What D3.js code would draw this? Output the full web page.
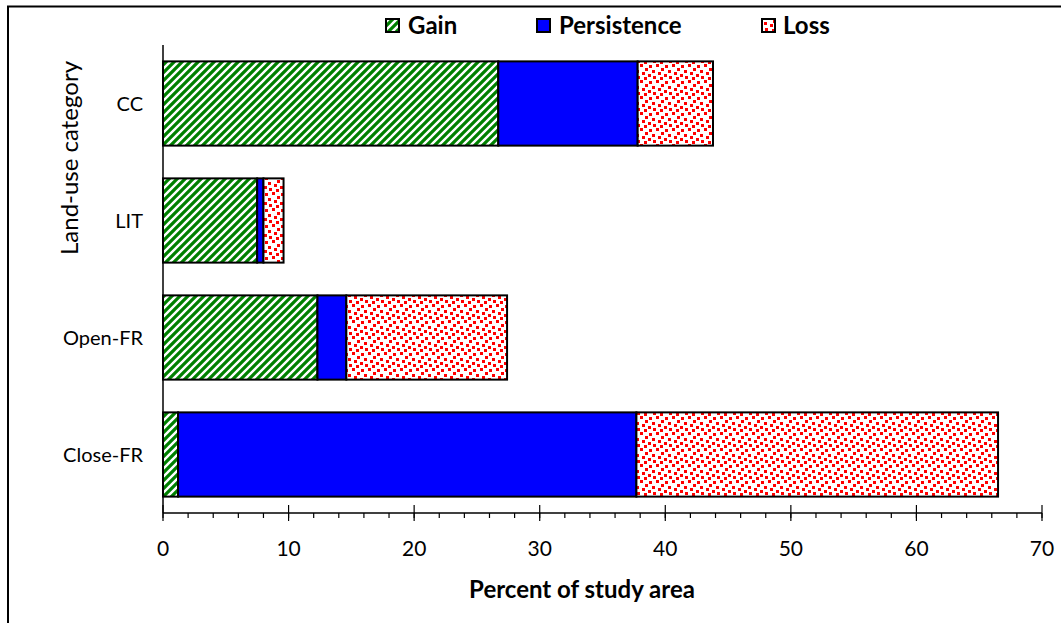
<!DOCTYPE html>
<html><head><meta charset="utf-8">
<script src="https://cdn.jsdelivr.net/npm/d3@7"></script>
<style>html,body{margin:0;padding:0;background:#fff;}svg{display:block;}</style>
</head><body>
<svg id="chart" width="1061" height="623"></svg>
<script>
const categories = ["CC", "LIT", "Open-FR", "Close-FR"];
const seriesNames = ["Gain", "Persistence", "Loss"];
const gain = [26.7, 7.5, 12.3, 1.2];
const persistence = [11.1, 0.5, 2.3, 36.5];
const loss = [6.0, 1.6, 12.8, 28.8];
const xTicks = [0, 10, 20, 30, 40, 50, 60, 70];
const xTitle = "Percent of study area";
const yTitle = "Land-use category";

const svg = d3.select("#chart");
const font = "Lato, 'Open Sans', sans-serif";

// outer frame
svg.append("rect").attr("x", 8).attr("y", 6.5).attr("width", 1100).attr("height", 700)
  .attr("fill", "none").attr("stroke", "#000").attr("stroke-width", 2);

const defs = svg.append("defs");
const pg = defs.append("pattern").attr("id", "pGain").attr("patternUnits", "userSpaceOnUse")
  .attr("width", 8).attr("height", 8);
pg.append("rect").attr("width", 8).attr("height", 8).attr("fill", "#008000");
pg.append("path").attr("d", "M-2,2 L2,-2 M0,8 L8,0 M6,10 L10,6")
  .attr("stroke", "#fff").attr("stroke-width", 2.4);
const pl = defs.append("pattern").attr("id", "pLoss").attr("patternUnits", "userSpaceOnUse")
  .attr("width", 16).attr("height", 16);
pl.append("rect").attr("width", 16).attr("height", 16).attr("fill", "#fff");
[[0,0],[9,1],[5,4],[12,6],[2,8],[8,10],[4,13],[13,12]].forEach(([a,b]) =>
  pl.append("rect").attr("x", a).attr("y", b).attr("width", 3).attr("height", 3).attr("fill", "#ff0000"));

const fills = {Gain: "url(#pGain)", Persistence: "#0000ff", Loss: "url(#pLoss)"};

const x = d3.scaleLinear().domain([0, 70]).range([163, 1042]);
const y = d3.scaleBand().domain(categories).range([45, 513]).paddingInner(0.28).paddingOuter(0.14);

const rows = categories.map((c, i) => ({cat: c, Gain: gain[i], Persistence: persistence[i], Loss: loss[i]}));
const stack = d3.stack().keys(seriesNames)(rows);

stack.forEach(s => {
  svg.append("g").selectAll("rect").data(s).join("rect")
    .attr("x", d => x(d[0])).attr("y", d => y(d.data.cat))
    .attr("width", d => x(d[1]) - x(d[0])).attr("height", y.bandwidth())
    .attr("fill", fills[s.key]).attr("stroke", "#000").attr("stroke-width", 2);
});

// axes
const axY = 513;
svg.append("line").attr("x1", x(0)).attr("x2", x(70)).attr("y1", axY).attr("y2", axY)
  .attr("stroke", "#000").attr("stroke-width", 1.5);
svg.append("line").attr("x1", x(0)).attr("x2", x(0)).attr("y1", 45).attr("y2", axY)
  .attr("stroke", "#000").attr("stroke-width", 1.5);
const minor = d3.range(0, 70.001, 2);
svg.append("g").selectAll("line").data(minor).join("line")
  .attr("x1", d => x(d)).attr("x2", d => x(d)).attr("y1", axY).attr("y2", axY + 5)
  .attr("stroke", "#000").attr("stroke-width", 1.2);
svg.append("g").selectAll("line").data(xTicks).join("line")
  .attr("x1", d => x(d)).attr("x2", d => x(d)).attr("y1", axY - 8).attr("y2", axY + 8)
  .attr("stroke", "#000").attr("stroke-width", 1.2);
svg.append("g").selectAll("text").data(xTicks).join("text")
  .attr("x", d => x(d)).attr("y", 556).attr("text-anchor", "middle")
  .attr("font-family", font).attr("font-size", 21).attr("fill", "#000").text(d => d);
svg.append("text").attr("x", 582).attr("y", 598).attr("text-anchor", "middle")
  .attr("font-family", font).attr("font-weight", "bold").attr("font-size", 24).text(xTitle);

svg.append("g").selectAll("text").data(categories).join("text")
  .attr("x", 143).attr("y", d => y(d) + y.bandwidth() / 2 + 7).attr("text-anchor", "end")
  .attr("font-family", font).attr("font-size", 20).text(d => d);
svg.append("text").attr("transform", "translate(78,158) rotate(-90)").attr("text-anchor", "middle")
  .attr("font-family", font).attr("font-size", 24).text(yTitle);

// legend
const legX = [386, 537, 762];
const legTX = [408, 559, 783];
seriesNames.forEach((s, i) => {
  svg.append("rect").attr("x", legX[i]).attr("y", 19).attr("width", 13).attr("height", 13)
    .attr("fill", fills[s]).attr("stroke", "#000").attr("stroke-width", 2);
  svg.append("text").attr("x", legTX[i]).attr("y", 34).attr("font-family", font)
    .attr("font-weight", "bold").attr("font-size", 24).text(s);
});
</script>
</body></html>
